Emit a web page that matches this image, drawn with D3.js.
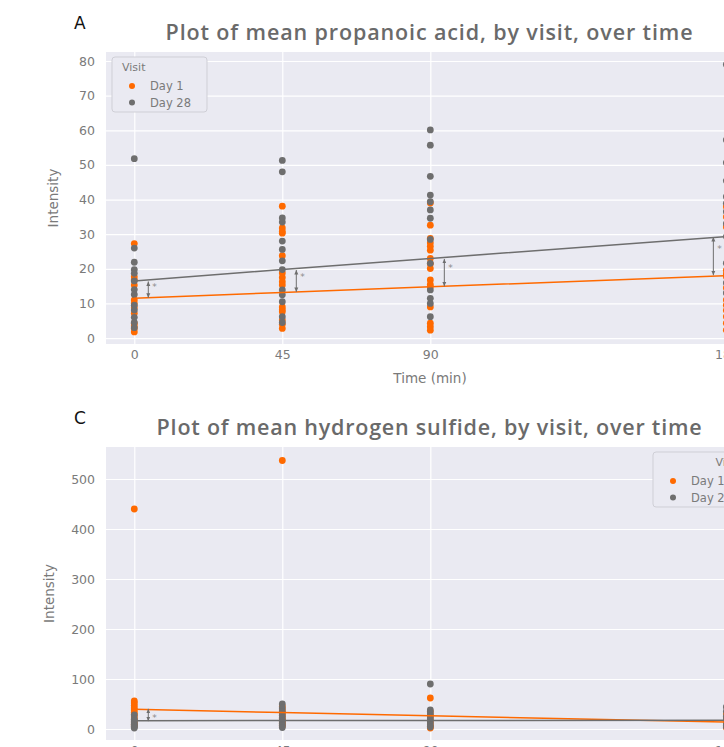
<!DOCTYPE html>
<html>
<head>
<meta charset="utf-8">
<script src="https://cdn.jsdelivr.net/npm/d3@7"></script>
<style>
  body { margin: 0; background: #ffffff; }
  text { font-family: "DejaVu Sans", "Open Sans", sans-serif; }
  .title { font-family: "Open Sans", "Noto Sans", sans-serif; }
</style>
</head>
<body>
<script>
// time points (min) and x tick labels
var times = [0, 45, 90, 180];
var xTicks = [0, 45, 90, 180];
var visits = ["Day 1", "Day 28"];

// propanoic acid: single values for each time point
var propDay1 = [
    [27.3, 17.7, 16.8, 15.3, 11.0, 10.0, 8.8, 7.2, 4.3, 3.5, 2.8, 1.8],
    [38.1, 31.8, 30.8, 30.3, 23.8, 18.8, 17.5, 16.3, 15.3, 9.0, 8.2, 7.6, 5.2, 4.0, 2.8],
    [39.0, 32.6, 28.8, 27.5, 26.5, 25.4, 23.0, 21.5, 20.1, 16.8, 15.5, 14.8, 9.0, 4.3, 3.3, 2.3],
    [37.9, 35.0, 32.1, 19.6, 18.5, 17.7, 14.5, 11.0, 9.5, 8.0, 6.2, 4.3, 2.3]
];
var propDay28 = [
    [51.8, 26.0, 21.9, 19.8, 18.7, 16.5, 14.0, 12.6, 9.5, 8.1, 6.0, 4.5, 3.0],
    [51.3, 48.0, 34.7, 33.5, 28.0, 25.6, 22.3, 19.8, 13.9, 12.5, 10.5, 6.2, 4.5],
    [60.1, 55.7, 46.7, 41.3, 39.4, 37.0, 34.6, 28.5, 21.6, 13.9, 11.5, 10.0, 6.2],
    [79.0, 57.2, 50.6, 45.4, 40.8, 38.9, 36.5, 33.0, 29.3, 21.6, 15.9, 13.0]
];
var propMeanDay1 = [11.5, 13.2, 14.8, 18.0];
var propMeanDay28 = [16.5, 19.8, 23.0, 29.3];
var propSig = ["*", "*", "*", "*"];
var propTicks = [0, 10, 20, 30, 40, 50, 60, 70, 80];

// hydrogen sulfide: single values for each time point
var sulfDay1 = [
    [440, 56, 52, 47, 42, 38, 33, 29, 24, 19, 14, 9, 6],
    [537, 45, 38, 32, 27, 22, 18, 14, 10, 6],
    [62, 35, 28, 22, 16, 10, 5, 2],
    [30, 22, 15, 10, 6, 3]
];
var sulfDay28 = [
    [28, 20, 16, 12, 9, 6, 4, 2],
    [50, 42, 35, 28, 22, 16, 11, 7, 3],
    [90, 38, 32, 26, 20, 14, 8, 4],
    [44, 35, 25, 18, 12, 7, 4]
];
var sulfMeanDay1 = [39.4, 32.8, 26.5, 14.0];
var sulfMeanDay28 = [16.7, 16.8, 17.0, 17.4];
var sulfSig = ["*", "", "", ""];
var sulfTicks = [0, 100, 200, 300, 400, 500];

window.onload = function(){
    var w = 724, h = 747;
    var colors = ["#ff6a00", "#6e6e6e"];

    var svg = d3.select("body")
        .append("svg")
        .attr("width", w)
        .attr("height", h);

    // arrow head used by the significance brackets
    var defs = svg.append("defs");
    defs.append("marker")
        .attr("id", "arr")
        .attr("viewBox", "0 0 10 10")
        .attr("refX", 9)
        .attr("refY", 5)
        .attr("markerWidth", 5)
        .attr("markerHeight", 5)
        .attr("orient", "auto-start-reverse")
        .append("path")
        .attr("d", "M0,1 L9,5 L0,9 Z")
        .style("fill", "#6e6e6e");

    // shared x scale, plot runs from 106 to 753 (cut by the window)
    var x = d3.scaleLinear()
        .domain([-8.6, 188.1])
        .range([106, 753]);

    function panel(cfg){
        var top = cfg.top, bottom = cfg.bottom;
        var g = svg.append("g");

        var y = d3.scaleLinear()
            .domain(cfg.yDomain)
            .range([bottom, top]);

        // plot background
        g.append("rect")
            .attr("x", 106)
            .attr("y", top)
            .attr("width", 753 - 106)
            .attr("height", bottom - top)
            .style("fill", "#eaeaf2");

        // horizontal grid + y tick labels
        var yAxis = d3.axisLeft(y)
            .tickValues(cfg.yTicks)
            .tickSize(-(753 - 106))
            .tickPadding(11);
        var ya = g.append("g")
            .attr("transform", "translate(106,0)")
            .call(yAxis);
        ya.select(".domain").remove();
        ya.selectAll("line").style("stroke", "#ffffff").style("stroke-width", 1.2);
        ya.selectAll("text")
            .style("font-size", "12.5px")
            .style("fill", "#7a7a7a");

        // vertical grid + x tick labels
        var xAxis = d3.axisBottom(x)
            .tickValues(xTicks)
            .tickSize(-(bottom - top))
            .tickPadding(6);
        var xa = g.append("g")
            .attr("transform", "translate(0," + bottom + ")")
            .call(xAxis);
        xa.select(".domain").remove();
        xa.selectAll("line").style("stroke", "#ffffff").style("stroke-width", 1.2);
        xa.selectAll("text")
            .style("font-size", "12.5px")
            .style("fill", "#7a7a7a");

        // points, Day 1 first then Day 28 on top
        [cfg.day1, cfg.day28].forEach(function(series, s){
            var pts = [];
            series.forEach(function(vals, i){
                vals.forEach(function(v){ pts.push({t: times[i], v: v}); });
            });
            g.selectAll(".pt" + s)
                .data(pts)
                .enter()
                .append("circle")
                .attr("class", "pt" + s)
                .attr("cx", function(d){ return x(d.t); })
                .attr("cy", function(d){ return y(d.v); })
                .attr("r", 3.4)
                .style("fill", colors[s]);
        });

        // mean trend lines
        var line = d3.line()
            .x(function(d, i){ return x(times[i]); })
            .y(function(d){ return y(d); });
        [cfg.mean1, cfg.mean28].forEach(function(m, s){
            g.append("path")
                .datum(m)
                .attr("d", line)
                .style("fill", "none")
                .style("stroke", colors[s])
                .style("stroke-width", 1.5);
        });

        // significance brackets between the two means
        times.forEach(function(t, i){
            if(!cfg.sig[i]) return;
            var bx = i < times.length - 1 ? x(t) + 14 : x(t) - 13;
            var y1 = y(cfg.mean28[i]), y2 = y(cfg.mean1[i]);
            g.append("line")
                .attr("x1", bx).attr("x2", bx)
                .attr("y1", y1 + 0.5).attr("y2", y2 - 0.5)
                .attr("marker-start", "url(#arr)")
                .attr("marker-end", "url(#arr)")
                .style("stroke", "#6e6e6e")
                .style("stroke-width", 1);
            g.append("text")
                .attr("x", bx + 4)
                .attr("y", y1 + (y2 - y1) * 0.3 + 4)
                .style("font-size", "9px")
                .style("fill", "#8a8a8a")
                .text(cfg.sig[i]);
        });

        // panel letter
        g.append("text")
            .attr("x", 74)
            .attr("y", top - 23)
            .style("font-size", "17px")
            .style("fill", "#111111")
            .text(cfg.letter);

        // title, spaced out to the width it has in the picture
        var title = g.append("text")
            .attr("class", "title")
            .attr("x", 429.5)
            .attr("y", top - 12)
            .attr("text-anchor", "middle")
            .style("font-size", "21.5px")
            .style("font-weight", 600)
            .style("fill", "#6a6a6a")
            .text(cfg.title);
        var len = title.node().getComputedTextLength();
        title.style("letter-spacing", ((cfg.titleWidth - len) / (cfg.title.length - 1)) + "px");

        // y axis label
        g.append("text")
            .attr("transform", "translate(" + cfg.yLabelX + "," + ((top + bottom) / 2) + ") rotate(-90)")
            .attr("text-anchor", "middle")
            .style("font-size", "13.5px")
            .style("fill", "#7a7a7a")
            .text("Intensity");

        // x axis label
        g.append("text")
            .attr("x", 430)
            .attr("y", bottom + 39)
            .attr("text-anchor", "middle")
            .style("font-size", "13.5px")
            .style("fill", "#7a7a7a")
            .text("Time (min)");

        // legend
        var lx = cfg.legendLeft ? 112 : 653, ly = top + 5;
        var leg = g.append("g").attr("transform", "translate(" + lx + "," + ly + ")");
        leg.append("rect")
            .attr("width", 95)
            .attr("height", 55)
            .attr("rx", 3)
            .style("fill", "#eaeaf2")
            .style("stroke", "#cfcfd6")
            .style("stroke-width", 1);
        leg.append("text")
            .attr("x", cfg.legendLeft ? 10 : 86)
            .attr("y", 14)
            .attr("text-anchor", cfg.legendLeft ? "start" : "end")
            .style("font-size", "11px")
            .style("fill", "#7a7a7a")
            .text("Visit");
        visits.forEach(function(v, i){
            leg.append("circle")
                .attr("cx", 20)
                .attr("cy", 29 + i * 16.5)
                .attr("r", 3)
                .style("fill", colors[i]);
            leg.append("text")
                .attr("x", 38)
                .attr("y", 33 + i * 16.5)
                .style("font-size", "11.5px")
                .style("fill", "#7a7a7a")
                .text(v);
        });
    }

    panel({
        top: 52, bottom: 344,
        yDomain: [-1.7, 82.6], yTicks: propTicks,
        day1: propDay1, day28: propDay28,
        mean1: propMeanDay1, mean28: propMeanDay28, sig: propSig,
        letter: "A",
        title: "Plot of mean propanoic acid, by visit, over time", titleWidth: 527,
        yLabelX: 58, legendLeft: true
    });

    panel({
        top: 447, bottom: 740,
        yDomain: [-22, 564], yTicks: sulfTicks,
        day1: sulfDay1, day28: sulfDay28,
        mean1: sulfMeanDay1, mean28: sulfMeanDay28, sig: sulfSig,
        letter: "C",
        title: "Plot of mean hydrogen sulfide, by visit, over time", titleWidth: 545,
        yLabelX: 54, legendLeft: false
    });
};
</script>
</body>
</html>
